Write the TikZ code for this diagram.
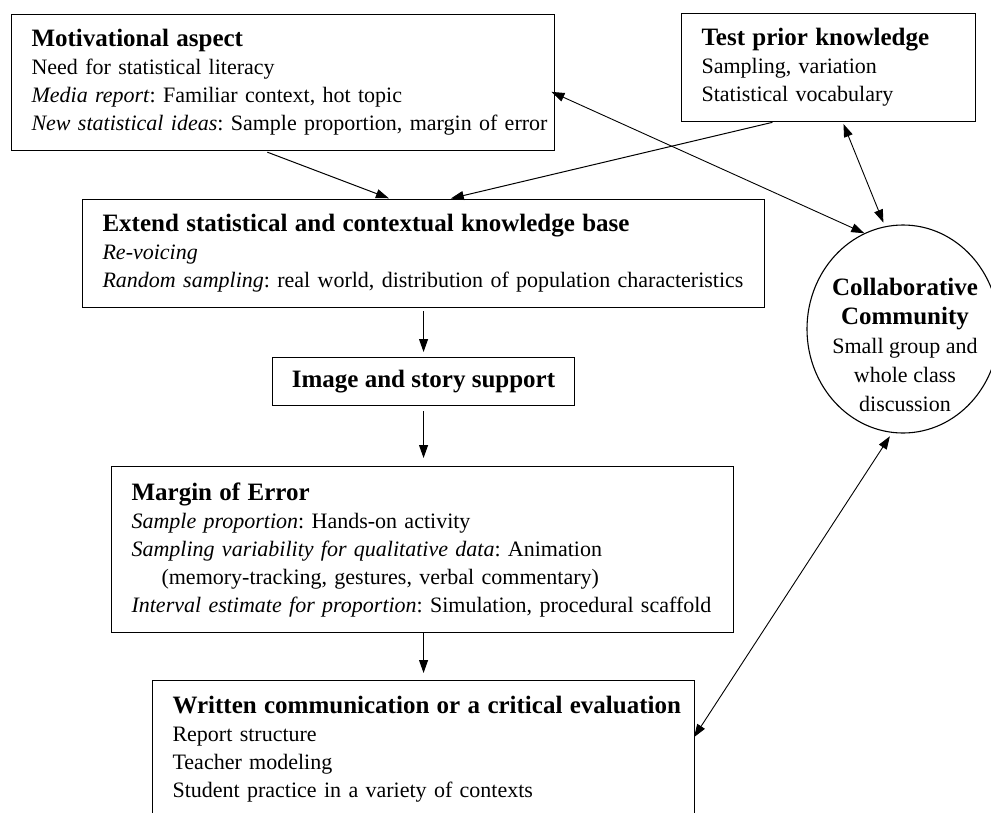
\documentclass[tikz,border=0pt]{standalone}
\usepackage{fontspec}
\setmainfont{Liberation Serif}
\usetikzlibrary{arrows.meta,shapes.geometric,calc}
\frenchspacing
\newcommand\bodysz{\fontsize{22}{28}\selectfont}
\newcommand\hd[1]{{\fontsize{25}{28}\selectfont\bfseries #1}}
\begin{document}
\begin{tikzpicture}[x=1pt,y=-1pt,
  box/.style={draw, line width=1.1pt, rectangle, anchor=north west, inner xsep=20pt, inner ysep=0pt, align=left, font=\bodysz},
  arr/.style={line width=1pt, -{Triangle[length=13pt,width=9pt]}},
  dbl/.style={line width=0.9pt, {Triangle[length=13pt,width=9pt]}-{Triangle[length=13pt,width=9pt]}}]
\useasboundingbox (0,0) rectangle (991,812);
\clip (0,0) rectangle (991,812);

\node[box, text width=503pt, minimum height=136pt] (mot) at (11,14)
  {\hd{Motivational aspect}\\
   \mbox{Need for statistical literacy}\\
   \mbox{\textit{Media report}: Familiar context, hot topic}\\
   \mbox{\textit{New statistical ideas}: Sample proportion, margin of error}};

\node[box, text width=254pt, minimum height=108pt] (test) at (681,13)
  {\hd{Test prior knowledge}\\
   \mbox{Sampling, variation}\\
   \mbox{Statistical vocabulary}};

\node[box, text width=642pt, minimum height=108pt] (ext) at (82,199)
  {\mbox{\hd{Extend statistical and contextual knowledge base}}\\
   \mbox{\textit{Re-voicing}}\\
   \mbox{\textit{Random sampling}: real world, distribution of population characteristics}};

\node[draw, line width=1.1pt, rectangle, anchor=north west, minimum width=302pt, minimum height=48pt, inner sep=0pt] (img) at (272,357)
  {\hd{Image and story support}};

\node[box, text width=582pt, minimum height=166pt] (moe) at (111,466)
  {\hd{Margin of Error}\\
   \mbox{\textit{Sample proportion}: Hands-on activity}\\
   \mbox{\textit{Sampling variability for qualitative data}: Animation}\\
   \mbox{\hspace*{30pt}(memory-tracking, gestures, verbal commentary)}\\
   \mbox{\textit{Interval estimate for proportion}: Simulation, procedural scaffold}};

\node[box, text width=502pt, minimum height=138pt] (wri) at (152,680)
  {\mbox{\hd{Written communication or a critical evaluation}}\\
   \mbox{Report structure}\\
   \mbox{Teacher modeling}\\
   \mbox{Student practice in a variety of contexts}};

\node[draw, ellipse, line width=1.1pt, minimum width=192pt, minimum height=208pt, inner sep=0pt] (cc) at (903,329) {};
\node[align=center, inner sep=0pt, font=\fontsize{22}{29}\selectfont] (cct) at (905,345)
  {\hd{Collaborative}\\ \hd{Community}\\ Small group and\\ whole class\\ discussion};

% connectors
\draw[arr, shorten <=3pt, shorten >=2pt] ($(mot.south west)!0.466!(mot.south east)$) -- ($(ext.north west)!0.452!(ext.north east)$);
\draw[arr, shorten <=1pt, shorten >=2pt] ($(test.south west)!0.313!(test.south east)$) -- ($(ext.north west)!0.537!(ext.north east)$);
\draw[dbl, shorten <=-4pt] ($(mot.north east)!0.58!(mot.south east)$) -- (cc.112.9);
\draw[dbl, shorten <=2pt, shorten >=4pt] ($(test.south west)!0.548!(test.south east)$) -- (cc.100.9);
\draw[dbl, shorten <=-2pt, shorten >=4pt] ($(wri.north east)!0.399!(wri.south east)$) -- (cc.264.8);
\draw[arr, shorten <=3pt, shorten >=5pt] (ext.south) -- (ext.south |- img.north);
\draw[arr, shorten <=5pt, shorten >=8pt] (img.south) -- (img.south |- moe.north);
\draw[arr, shorten >=7pt] (img.south |- moe.south) -- (img.south |- wri.north);
\end{tikzpicture}
\end{document}
